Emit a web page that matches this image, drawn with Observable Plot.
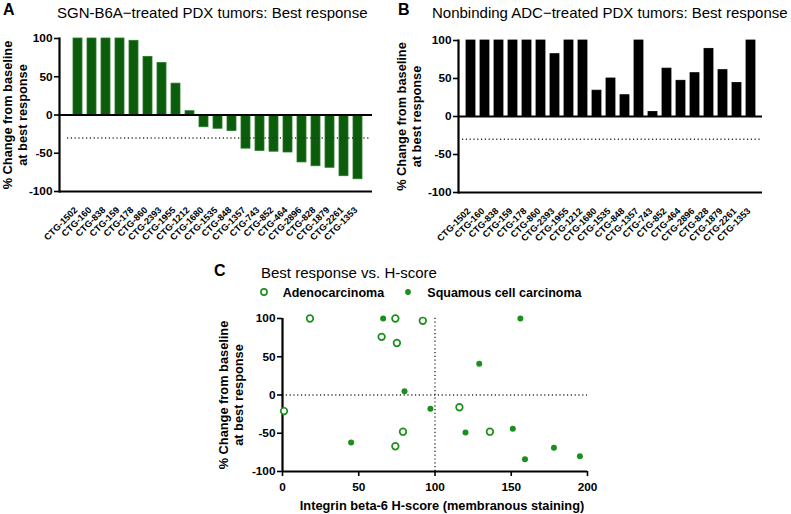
<!DOCTYPE html>
<html>
<head>
<meta charset="utf-8">
<script src="https://cdn.jsdelivr.net/npm/d3@7"></script>
<script src="https://cdn.jsdelivr.net/npm/@observablehq/plot@0.6"></script>
<style>
  html, body { margin: 0; padding: 0; background: #fff; }
  body { font-family: "Liberation Sans", Arial, sans-serif; color: #000; }
  #root { position: relative; width: 791px; height: 514px; overflow: hidden; background: #fff; }
  .abs { position: absolute; white-space: nowrap; line-height: 1; }
  .panel { font-weight: bold; font-size: 16px; }
  .title { font-size: 15px; }
  .leg { font-weight: bold; font-size: 12.5px; }
  svg.legsym { position: absolute; overflow: visible; }
</style>
</head>
<body>
<div id="root"></div>
<script>
// ---------- data ----------
const tumors = ["CTG-1502","CTG-160","CTG-838","CTG-159","CTG-178","CTG-860","CTG-2393","CTG-1955","CTG-1212","CTG-1680","CTG-1535","CTG-848","CTG-1357","CTG-743","CTG-852","CTG-464","CTG-2896","CTG-828","CTG-1879","CTG-2261","CTG-1353"];
const b6aResponse = [100, 100, 100, 100, 97, 76, 68, 41, 5, -16, -18, -21, -44, -47, -48, -49, -62, -67, -69, -80, -84];
const nonbindingResponse = [100, 100, 100, 100, 100, 100, 82, 100, 100, 34, 50, 28, 100, 6, 63, 47, 57, 89, 61, 44, 100];

const adenoHscore   = [18, 74, 92, 65, 75, 1, 116, 136, 79, 74];
const adenoResponse = [100, 100, 97, 76, 68, -21, -16, -48, -48, -67];
const squamHscore   = [66, 156, 129, 80, 97, 120, 151, 45, 178, 159, 195];
const squamResponse = [100, 100, 41, 5, -18, -49, -44, -62, -69, -84, -80];

const yTicks = [-100, -50, 0, 50, 100];
const xTicksC = [0, 50, 100, 150, 200];
const responseThreshold = -30;
const hscoreCut = 100;

const yTitle = "% Change from baseline\nat best response";
const xTitleC = "Integrin beta-6 H-score (membranous staining)";
const seriesNames = ["Adenocarcinoma", "Squamous cell carcinoma"];

const FONT = '"Liberation Sans", Arial, sans-serif';
const darkGreen = "#0b5c0b";
const green = "#1b8f1b";

const root = document.getElementById("root");

function place(el, left, top) {
  el.style.position = "absolute";
  el.style.left = left + "px";
  el.style.top = top + "px";
  root.appendChild(el);
}
function label(text, cls, left, top) {
  const d = document.createElement("div");
  d.className = "abs " + cls;
  d.textContent = text;
  d.style.left = left + "px";
  d.style.top = top + "px";
  root.appendChild(d);
  return d;
}

function waterfall(values, fill, stroke, o) {
  const data = tumors.map((id, i) => ({id, v: values[i]}));
  return Plot.plot({
    width: o.width, height: 250,
    marginLeft: o.ml, marginRight: o.mr, marginTop: o.mt, marginBottom: o.mb,
    style: {fontFamily: FONT, color: "#000", background: "transparent", overflow: "visible"},
    x: {domain: tumors, paddingInner: 0.35, paddingOuter: 0.175, insetLeft: o.il, insetRight: o.ir, label: null},
    y: {domain: [-100, 100], label: null},
    marks: [
      Plot.barY(data, {x: "id", y: "v", fill, stroke, strokeWidth: 0.8}),
      Plot.ruleY([responseThreshold], {stroke: "#333", strokeWidth: 1.4, strokeDasharray: "1.2,2.6", insetLeft: o.dl, insetRight: o.dr}),
      Plot.ruleY([0], {stroke: "#000", strokeWidth: 2}),
      Plot.ruleY([-100], {stroke: "#000", strokeWidth: 2.2}),
      Plot.frame({anchor: "left", stroke: "#000", strokeWidth: 2.2}),
      Plot.axisY({ticks: yTicks, tickSize: 5, tickPadding: 2, tickFormat: d => String(d), fontSize: 11.8, fontWeight: "bold", strokeWidth: 1.6, label: null}),
      Plot.axisX({tickRotate: -45, tickSize: 0, tickPadding: 17, dx: -2, fontSize: 9.2, fontWeight: "bold", label: null}),
      Plot.text([yTitle], {text: d => d, frameAnchor: "left", textAnchor: "middle", dx: o.ytdx, rotate: -90, fontSize: 12.8, fontWeight: "bold", lineHeight: 1.17})
    ]
  });
}

// Panel A
label("A", "panel", 3, 1.5);
label("SGN-B6A\u2212treated PDX tumors: Best response", "title", 57, 4.6);
place(waterfall(b6aResponse, darkGreen, "#2a7a2a", {width: 390, ml: 59, mr: 18, mt: 38, mb: 59, il: 6.8, ir: 2.8, dl: 8, dr: 2, ytdx: -44.4}), 0, 0);

// Panel B
label("B", "panel", 398, 1.5);
label("Nonbinding ADC\u2212treated PDX tumors: Best response", "title", 432, 4.6);
place(waterfall(nonbindingResponse, "#000", "#000", {width: 396, ml: 63, mr: 29, mt: 40, mb: 58, il: 3.2, ir: 2.9, dl: 4, dr: 2, ytdx: -49.5}), 395, 0);

// Panel C
label("C", "panel", 214, 263);
label("Best response vs. H-score", "title", 261, 265.3);

const adeno = adenoHscore.map((h, i) => ({h, r: adenoResponse[i]}));
const squam = squamHscore.map((h, i) => ({h, r: squamResponse[i]}));

const plotC = Plot.plot({
  width: 420, height: 274,
  marginLeft: 92, marginRight: 23, marginTop: 78, marginBottom: 43,
  style: {fontFamily: FONT, color: "#000", background: "transparent", overflow: "visible"},
  x: {domain: [0, 200], label: null},
  y: {domain: [-100, 100], label: null},
  marks: [
    Plot.ruleX([hscoreCut], {y1: -100, y2: 102, stroke: "#333", strokeWidth: 1.4, strokeDasharray: "1.2,2.6"}),
    Plot.ruleY([0], {x1: 0, x2: 200, stroke: "#333", strokeWidth: 1.4, strokeDasharray: "1.2,2.6"}),
    Plot.ruleY([-100], {stroke: "#000", strokeWidth: 2.2}),
    Plot.ruleX([0], {stroke: "#000", strokeWidth: 2.2}),
    Plot.axisY({ticks: yTicks, tickSize: 5, tickPadding: 2, tickFormat: d => String(d), fontSize: 11.8, fontWeight: "bold", strokeWidth: 1.6, label: null}),
    Plot.axisX({ticks: xTicksC, tickSize: 5, tickPadding: 6, tickFormat: d => String(d), fontSize: 11.8, fontWeight: "bold", strokeWidth: 1.6, label: null}),
    Plot.dot(squam, {x: "h", y: "r", r: 3, fill: green, stroke: "none"}),
    Plot.dot(adeno, {x: "h", y: "r", r: 3.3, fill: "white", stroke: green, strokeWidth: 1.7}),
    Plot.text([xTitleC], {text: d => d, frameAnchor: "bottom", textAnchor: "middle", dy: 38.5, dx: 7, fontSize: 12.8, fontWeight: "bold"}),
    Plot.text([yTitle], {text: d => d, frameAnchor: "left", textAnchor: "middle", dx: -51.5, rotate: -90, fontSize: 12.8, fontWeight: "bold", lineHeight: 1.17})
  ]
});
place(plotC, 190, 240);

// Legend for C
function legSym(cx, cy, open) {
  const ns = "http://www.w3.org/2000/svg";
  const s = document.createElementNS(ns, "svg");
  s.setAttribute("class", "legsym");
  s.setAttribute("width", 10); s.setAttribute("height", 10);
  s.style.left = (cx - 5) + "px"; s.style.top = (cy - 5) + "px";
  const c = document.createElementNS(ns, "circle");
  c.setAttribute("cx", 5); c.setAttribute("cy", 5);
  if (open) { c.setAttribute("r", 3.1); c.setAttribute("fill", "white"); c.setAttribute("stroke", green); c.setAttribute("stroke-width", 1.6); }
  else { c.setAttribute("r", 2.9); c.setAttribute("fill", green); }
  s.appendChild(c);
  root.appendChild(s);
}
legSym(264, 292.3, true);
label(seriesNames[0], "leg", 282.7, 286.7);
legSym(408.3, 292.3, false);
label(seriesNames[1], "leg", 427.3, 286.7);
</script>
</body>
</html>
